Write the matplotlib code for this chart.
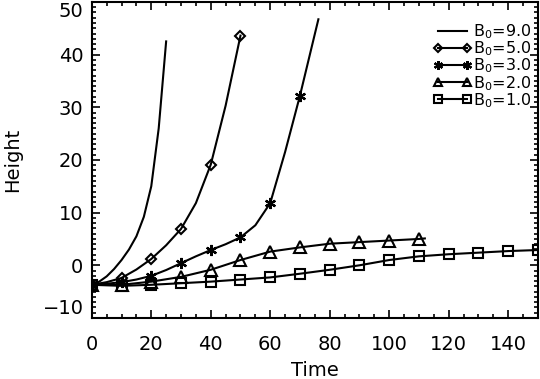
"""Height versus time for several B0 values."""
import numpy as np
import matplotlib
matplotlib.use("Agg")
import matplotlib.pyplot as plt
from matplotlib.ticker import MultipleLocator


# B0 = 9.0 (line only)
t_b9 = [0, 2.5, 5, 7.5, 10, 12.5, 15, 17.5, 20, 22.5, 25]
h_b9 = [-3.7, -3.1, -2.1, -0.7, 1.0, 3.0, 5.5, 9.2, 15.0, 26.0, 42.5]

# B0 = 5.0 (diamonds)
t_b5 = [0, 5, 10, 15, 20, 25, 30, 35, 40, 45, 50]
h_b5 = [-3.7, -3.2, -2.4, -0.8, 1.2, 3.8, 6.9, 11.8, 19.1, 30.3, 43.6]

# B0 = 3.0 (asterisks)
t_b3 = [0, 5, 10, 15, 20, 25, 30, 35, 40, 45, 50, 55, 60, 65, 70, 75, 76.2]
h_b3 = [-3.7, -3.5, -3.2, -2.7, -2.0, -0.9, 0.4, 1.7, 2.9, 4.0, 5.3, 7.6,
        11.8, 21.5, 32.2, 43.9, 46.7]

# B0 = 2.0 (triangles)
t_b2 = [0, 10, 20, 30, 40, 50, 60, 70, 80, 90, 100, 110, 112]
h_b2 = [-3.7, -3.7, -3.1, -2.2, -0.85, 1.0, 2.6, 3.4, 4.1, 4.4, 4.7, 5.0, 5.1]

# B0 = 1.0 (squares)
t_b1 = [0, 10, 20, 30, 40, 50, 60, 70, 80, 90, 100, 110, 120, 130, 140, 150]
h_b1 = [-3.7, -3.9, -3.7, -3.4, -3.1, -2.7, -2.3, -1.6, -0.85, 0.0, 1.0,
        1.7, 2.1, 2.4, 2.7, 2.9]

y_min, y_max = -10, 50


def every_ten(t):
    """Indices of samples sitting on multiples of 10."""
    return [i for i, v in enumerate(t) if abs(v % 10) < 1e-9]


def make_plot():
    plt.rcParams["font.family"] = "DejaVu Sans"
    plt.rcParams["mathtext.fontset"] = "dejavusans"

    fig = plt.figure(figsize=(5.4, 3.79), dpi=100)
    ax = fig.add_axes([0.170, 0.161, 0.826, 0.834])

    lw = 1.5
    ax.plot(t_b9, h_b9, color="black", lw=lw, label=r"B$_0$=9.0")
    ax.plot(t_b5, h_b5, color="black", lw=lw, marker="D", ms=5.5,
            mfc="none", mew=1.5, markevery=every_ten(t_b5), label=r"B$_0$=5.0")
    ax.plot(t_b3, h_b3, color="black", lw=lw, marker=(6, 2, 0), ms=8,
            mew=1.6, markevery=every_ten(t_b3), label=r"B$_0$=3.0")
    ax.plot(t_b2, h_b2, color="black", lw=lw, marker="^", ms=8,
            mfc="none", mew=1.5, markevery=every_ten(t_b2), label=r"B$_0$=2.0")
    ax.plot(t_b1, h_b1, color="black", lw=lw, marker="s", ms=7,
            mfc="none", mew=1.5, markevery=every_ten(t_b1), label=r"B$_0$=1.0")

    ax.set_xlim(0, 150)
    ax.set_ylim(y_min, y_max)
    ax.xaxis.set_major_locator(MultipleLocator(20))
    ax.xaxis.set_minor_locator(MultipleLocator(5))
    ax.yaxis.set_major_locator(MultipleLocator(10))
    ax.yaxis.set_minor_locator(MultipleLocator(1))
    ax.tick_params(which="both", direction="in", top=True, right=True,
                   width=1.2, labelsize=14)
    ax.tick_params(which="major", length=6)
    ax.tick_params(which="minor", length=3)
    ax.tick_params(axis="x", which="major", pad=12)
    ax.tick_params(axis="y", which="major", pad=6)
    for side in ax.spines.values():
        side.set_linewidth(1.5)

    ax.set_xlabel("Time", fontsize=14, labelpad=5)
    ax.set_ylabel("Height", fontsize=14, labelpad=15)

    # IDL-style: end labels pulled inside the axis range
    locs = ax.yaxis.get_majorticklocs()
    for loc, tick in zip(locs, ax.yaxis.get_major_ticks(len(locs))):
        if np.isclose(loc, y_max):
            tick.label1.set_verticalalignment("top")
        elif np.isclose(loc, y_min):
            tick.label1.set_verticalalignment("bottom")

    ax.legend(loc="upper right", frameon=False, numpoints=2, fontsize=11.5,
              markerscale=0.8, handlelength=2.4, handletextpad=0.1,
              labelspacing=-0.1, borderaxespad=0.0,
              bbox_to_anchor=(1.0, 0.955))

    fig.savefig("out.png", dpi=100)


if __name__ == "__main__":
    make_plot()
